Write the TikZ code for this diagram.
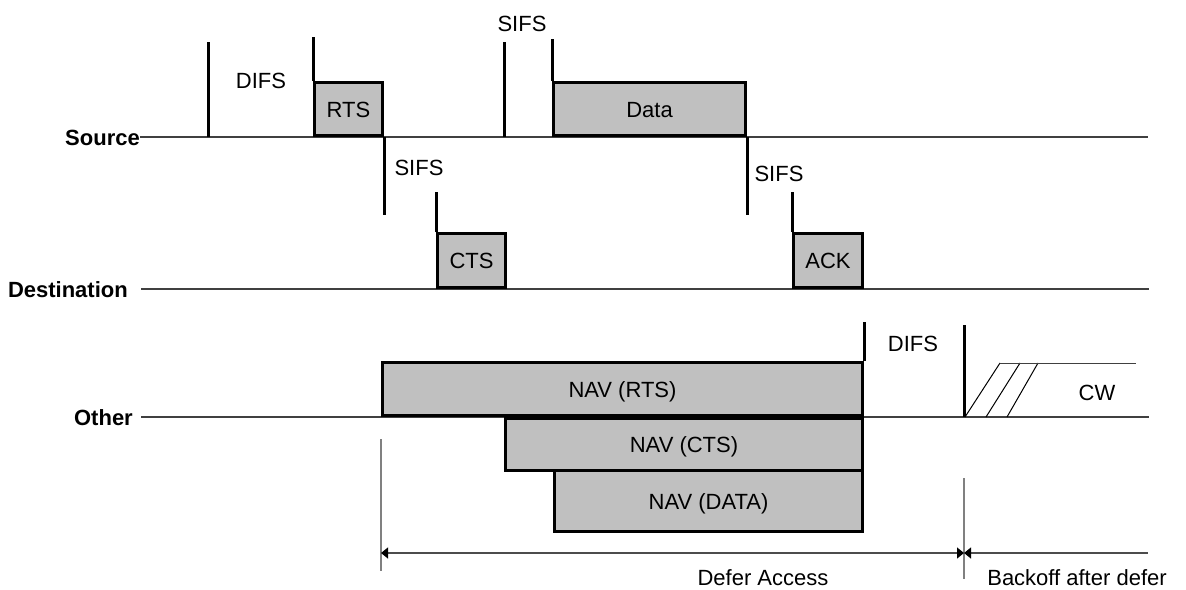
\documentclass[tikz,border=0pt]{standalone}
\usepackage{fontspec}
\setmainfont{Liberation Sans}
\usetikzlibrary{arrows.meta}
\definecolor{pktgray}{HTML}{C0C0C0}
\begin{document}
\begin{tikzpicture}[x=1pt,y=-1pt,
  txt/.style={font=\fontsize{22}{25}\selectfont, inner sep=0pt, text height=16pt, text depth=0pt},
  lbl/.style={txt},
  station/.style={txt, font=\bfseries\fontsize{22}{25}\selectfont, anchor=east},
  pkt/.style={txt, draw, line width=3pt, fill=pktgray},
  bar/.style={line width=3pt},
  base/.style={line width=1.2pt, draw=black!75},
  dim/.style={line width=1.3pt, draw=black!50},
  dimline/.style={line width=1.3pt, draw=black!70},
  tip/.style={Triangle[length=7pt,width=11pt,color=black]},
  hatch/.style={line width=1pt},
]
\useasboundingbox (0,0) rectangle (1186,589);

% station labels and their time lines
\node[station] (src) at (140,137) {Source};
\node[station] (dst) at (128,289) {Destination};
\node[station] (oth) at (133,417) {Other};
\draw[base] (src.east) -- (1148,137);
\draw[base] (141,289) -- (1149,289);
\draw[base] (141,417) -- (1149,417);

% frames on the medium
\node[pkt, anchor=south west, minimum width=68pt, minimum height=53pt] (rts) at (313,137) {RTS};
\node[pkt, anchor=south west, minimum width=192pt, minimum height=53pt] (data) at (552,137) {Data};
\node[pkt, anchor=south west, minimum width=68pt, minimum height=54pt] (cts) at (436,289) {CTS};
\node[pkt, anchor=south west, minimum width=69pt, minimum height=54pt] (ack) at (792,289) {ACK};

% NAV settings of the other stations
\node[pkt, anchor=south west, minimum width=480pt, minimum height=53pt] (navrts) at (381,417) {NAV (RTS)};
\node[pkt, anchor=north west, minimum width=357pt, minimum height=52pt] (navcts) at (504,417) {NAV (CTS)};
\node[pkt, anchor=north west, minimum width=308pt, minimum height=61pt] (navdata) at (553,469) {NAV (DATA)};

% interframe space markers
\draw[bar] (208,42) -- (208,137);
\draw[bar] (rts.north west) -- ++(0,-44);
\draw[bar] (rts.south east) -- ++(0,78);
\draw[bar] (504,42) -- (504,137);
\draw[bar] (data.north west) -- ++(0,-42);
\draw[bar] (data.south east) -- ++(0,78);
\draw[bar] (cts.north west) -- ++(0,-40);
\draw[bar] (ack.north west) -- ++(0,-40);
\draw[bar] (navrts.north east) -- ++(0,-39);
\draw[bar] (964,325) -- (964,417);

\node[lbl] (difs1) at (261,80) {DIFS};
\node[lbl] (sifs0) at (522,23) {SIFS};
\node[lbl] (sifs1) at (419,167) {SIFS};
\node[lbl] (sifs2) at (779,173) {SIFS};
\node[lbl] (difs2) at (913,343) {DIFS};

% contention window
\draw[hatch] (965,417) -- (1000,363);
\draw[hatch] (986,417) -- (1020,363);
\draw[hatch] (1007,417) -- (1038,363);
\draw[base, line width=1pt] (1000,363) -- (1136,363);
\node[lbl] (cw) at (1097,392) {CW};

% defer and backoff intervals
\coordinate (d0) at (381,553);
\coordinate (d1) at (964,553);
\coordinate (d2) at (1148,553);
\draw[dim] (381,439) -- (381,571);
\draw[dim] (964,478) -- (964,579);
\draw[dimline, {Triangle[length=7pt,width=11pt,color=black]}-{Triangle[length=7pt,width=11pt,color=black]}] (d0) -- (d1);
\draw[dimline, {Triangle[length=7pt,width=11pt,color=black]}-] (d1) -- (d2);
\node[lbl] (defer) at (763,577) {Defer Access};
\node[lbl] (backoff) at (1077,577) {Backoff after defer};
\end{tikzpicture}
\end{document}
